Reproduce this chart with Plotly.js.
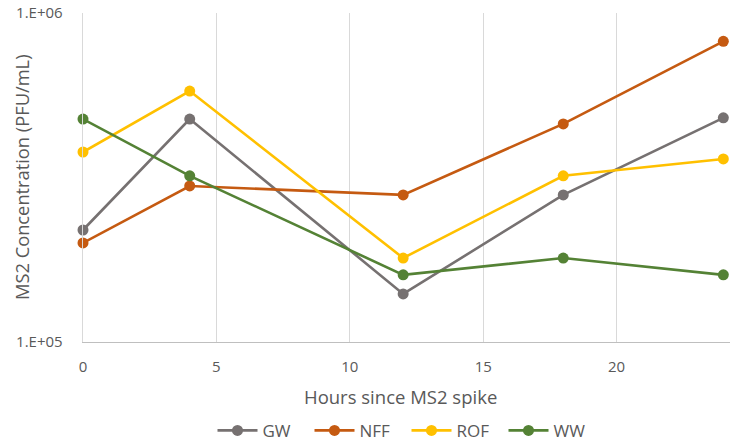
<!DOCTYPE html>
<html>
<head>
<meta charset="utf-8">
<script src="https://cdn.plot.ly/plotly-3.0.1.min.js"></script>
<style>html,body{margin:0;padding:0;background:#fff;}#chart{width:730px;height:444px;}</style>
</head>
<body>
<div id="chart"></div>
<script>
const hours = [0, 4, 12, 18, 24];
const seriesNames = ["GW", "NFF", "ROF", "WW"];
const GW  = [2.19e5, 4.76e5, 1.40e5, 2.80e5, 4.80e5];
const NFF = [2.00e5, 2.98e5, 2.80e5, 4.60e5, 8.20e5];
const ROF = [3.78e5, 5.79e5, 1.80e5, 3.20e5, 3.60e5];
const WW  = [4.76e5, 3.20e5, 1.60e5, 1.80e5, 1.60e5];
const yTickVals = [1e5, 1e6];
const yTickText = ["1.E+05", "1.E+06"];
const xTickVals = [0, 5, 10, 15, 20];
const xTitle = "Hours since MS2 spike";
const yTitle = "MS2 Concentration (PFU/mL)";

const colors = {GW: "#767171", NFF: "#C55A11", ROF: "#FFC000", WW: "#548235"};
const values = {GW, NFF, ROF, WW};

const traces = seriesNames.map(n => ({
  x: hours, y: values[n], name: n, type: "scatter", mode: "lines+markers",
  line: {color: colors[n], width: 2.6},
  marker: {color: colors[n], size: 11},
  cliponaxis: false
}));

const fam = "Open Sans, sans-serif";
const grey = "#595959";
const layout = {
  width: 730, height: 444,
  margin: {l: 83, r: 0, t: 13, b: 102, autoexpand: false},
  paper_bgcolor: "#fff", plot_bgcolor: "#fff",
  font: {family: fam, size: 15, color: grey},
  showlegend: true,
  legend: {orientation: "h", x: 0.5, xanchor: "center", y: -0.27, yanchor: "middle",
           font: {family: fam, size: 17, color: grey}, itemwidth: 40,
           entrywidth: 42, entrywidthmode: "pixels", tracegroupgap: 0},
  xaxis: {
    range: [0, 24.25], tickvals: xTickVals, showgrid: true, gridcolor: "#d9d9d9", gridwidth: 1.3,
    zeroline: false, showline: true, linecolor: "#bfbfbf", linewidth: 1.3,
    ticks: "outside", ticklen: 11, tickcolor: "rgba(0,0,0,0)",
    tickfont: {family: fam, size: 15, color: grey}
  },
  yaxis: {
    type: "log", range: [5, 6], tickvals: yTickVals, ticktext: yTickText,
    showgrid: true, gridcolor: "#d9d9d9", gridwidth: 1.3,
    zeroline: false, showline: true, linecolor: "#d9d9d9", linewidth: 1.3,
    ticks: "outside", ticklen: 16, tickcolor: "rgba(0,0,0,0)",
    tickfont: {family: fam, size: 15, color: grey}
  },
  annotations: [
    {text: xTitle, xref: "paper", yref: "paper", x: 0.49, y: -0.167, xanchor: "center", yanchor: "middle",
     showarrow: false, font: {family: fam, size: 18.5, color: grey}},
    {text: yTitle, xref: "paper", yref: "paper", x: -0.095, y: 0.5, xanchor: "center", yanchor: "middle",
     textangle: -90, showarrow: false, font: {family: fam, size: 18.3, color: grey}}
  ]
};
Plotly.newPlot("chart", traces, layout, {displayModeBar: false, staticPlot: true});
</script>
</body>
</html>
